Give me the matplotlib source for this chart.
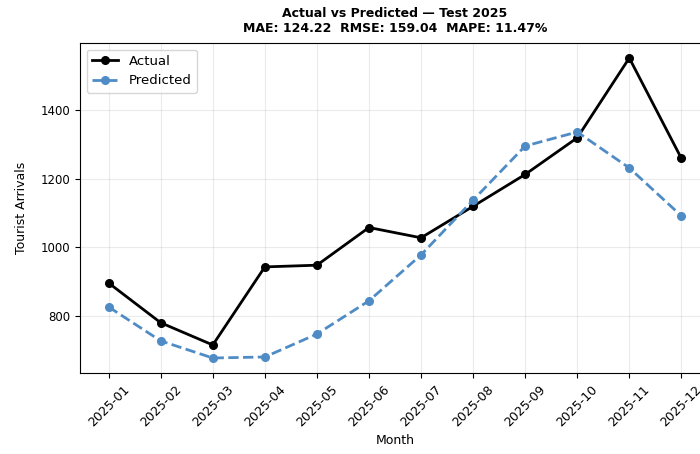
import matplotlib
matplotlib.use("Agg")
import matplotlib.pyplot as plt

months = ["2025-01", "2025-02", "2025-03", "2025-04", "2025-05", "2025-06",
          "2025-07", "2025-08", "2025-09", "2025-10", "2025-11", "2025-12"]
actual = [896, 780, 715, 943, 948, 1058, 1028, 1120, 1213, 1320, 1553, 1260]
predicted = [826, 727, 677, 680, 747, 844, 978, 1138, 1296, 1337, 1232, 1092]

mae, rmse, mape = 124.22, 159.04, 11.47

fig = plt.figure(figsize=(7, 4.54), dpi=100)
# axes run a bit past the right edge of the canvas
ax = fig.add_axes([80 / 700, 81 / 454, 630 / 700, 330 / 454])

x = range(len(months))
ax.plot(x, actual, color="black", marker="o", linewidth=2, markersize=5.5, label="Actual")
ax.plot(x, predicted, color="#4f8cc6", marker="o", linestyle="--", linewidth=2,
        markersize=5.5, label="Predicted")

ax.set_xticks(list(x))
ax.set_xticklabels(months, rotation=45, fontsize=9)
ax.tick_params(axis="y", labelsize=8.5)
ax.set_yticks([800, 1000, 1200, 1400])
ax.grid(True, alpha=0.25)
ax.set_xlabel("Month", fontsize=9, labelpad=4)
ax.set_ylabel("Tourist Arrivals", fontsize=9, labelpad=9)
ax.set_title(f"Actual vs Predicted \u2014 Test 2025\nMAE: {mae:.2f}  RMSE: {rmse:.2f}  MAPE: {mape:.2f}%",
             fontsize=9, fontweight="bold", pad=8)
ax.legend(loc="upper left", fontsize=9.5)

fig.savefig("out.png", dpi=100)
